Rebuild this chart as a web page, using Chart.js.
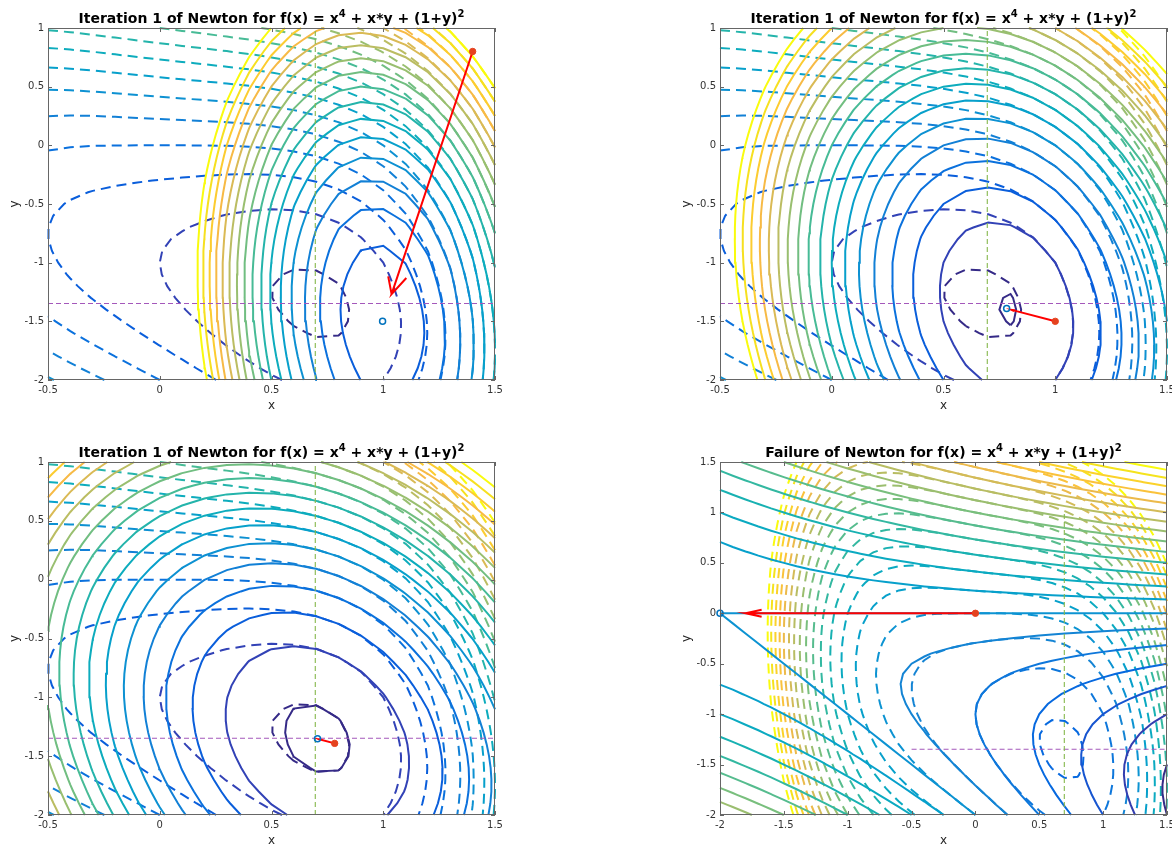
<!DOCTYPE html>
<html lang="en">
  <head>
    <meta charset="UTF-8" />
    <title>Newton iterations on a quartic</title>
    <script src="https://cdn.jsdelivr.net/npm/chart.js@4.4.1/dist/chart.umd.min.js"></script>
    <style>
      html, body {
        margin: 0;
        padding: 0;
        background: #fff;
        width: 1172px;
        height: 845px;
        overflow: hidden;
        position: relative;
      }
      canvas {
        position: absolute;
      }
    </style>
  </head>
  <body>
    <canvas id="p0"></canvas>
    <canvas id="p1"></canvas>
    <canvas id="p2"></canvas>
    <canvas id="p3"></canvas>

    <script>
      /******************************************************************
       * 1.  ----  Data  ----
       ******************************************************************/
      // contour levels used for both f (dashed) and the Newton model (solid)
      const LEVELS = [-2, -1.5, -1, -0.5, 0, 0.5, 1, 1.5, 2, 2.5, 3, 3.5, 4, 4.5, 5, 5.5, 6, 6.5, 7, 7.5, 8];

      // one entry per panel (top-left, top-right, bottom-left, bottom-right)
      const TITLE_LEAD = [
        "Iteration 1 of Newton for f(x) = x",
        "Iteration 1 of Newton for f(x) = x",
        "Iteration 1 of Newton for f(x) = x",
        "Failure of Newton for f(x) = x",
      ];
      const TITLE_TAIL = ["4", " + x*y + (1+y)", "2"]; // superscript, text, superscript

      const X_MIN = [-0.5, -0.5, -0.5, -2];
      const X_MAX = [1.5, 1.5, 1.5, 1.5];
      const Y_MIN = [-2, -2, -2, -2];
      const Y_MAX = [1, 1, 1, 1.5];

      const X_TICKS = [
        [-0.5, 0, 0.5, 1, 1.5],
        [-0.5, 0, 0.5, 1, 1.5],
        [-0.5, 0, 0.5, 1, 1.5],
        [-2, -1.5, -1, -0.5, 0, 0.5, 1, 1.5],
      ];
      const Y_TICKS = [
        [-2, -1.5, -1, -0.5, 0, 0.5, 1],
        [-2, -1.5, -1, -0.5, 0, 0.5, 1],
        [-2, -1.5, -1, -0.5, 0, 0.5, 1],
        [-2, -1.5, -1, -0.5, 0, 0.5, 1, 1.5],
      ];

      // current iterate (red dot) and Newton point (blue circle)
      const START_X = [1.4, 1.0, 0.7826, 0];
      const START_Y = [0.8, -1.5, -1.3913, 0];
      const NEXT_X = [0.997, 0.7826, 0.7058, -2];
      const NEXT_Y = [-1.4985, -1.3913, -1.3529, 0];

      // minimiser cross-hair
      const X_STAR = 0.6959;
      const Y_STAR = -1.3479;
      const STAR_X_SPAN = [-0.5, 1.5];
      const STAR_Y_SPAN = [-2, 1];

      // colour limits per panel
      const C_MIN = [-0.5, -0.5, -0.5, -2];
      const C_MAX = [8, 8, 8, 8];

      const GRID_STEP = 0.1;
      const ARROW_SCALE = 0.9; // quiver auto-scale
      const HEAD_ALPHA = 0.07;
      const HEAD_BETA = 0.28;

      /******************************************************************
       * 2.  ----  Function, Newton model, colours, contouring  ----
       ******************************************************************/
      const f = (x, y) => x ** 4 + x * y + (1 + y) ** 2;

      function newtonModel(x0, y0) {
        const f0 = f(x0, y0);
        const gx = 4 * x0 ** 3 + y0;
        const gy = x0 + 2 * (1 + y0);
        const hxx = 12 * x0 * x0;
        return (x, y) => {
          const dx = x - x0, dy = y - y0;
          return f0 + gx * dx + gy * dy + 0.5 * (hxx * dx * dx + 2 * dx * dy + 2 * dy * dy);
        };
      }

      // parula, every 4th entry of the 64 colour map
      const PARULA = [
        [0.2081, 0.1663, 0.5292], [0.1959, 0.2645, 0.7279], [0.0117, 0.3875, 0.882],
        [0.0498, 0.4586, 0.8641], [0.0793, 0.52, 0.8312], [0.0343, 0.5966, 0.8199],
        [0.0228, 0.6535, 0.7768], [0.0843, 0.6928, 0.7062], [0.2178, 0.725, 0.6193],
        [0.3953, 0.7459, 0.5244], [0.5709, 0.7485, 0.4494], [0.7184, 0.7411, 0.3905],
        [0.8507, 0.7299, 0.336], [0.9739, 0.7314, 0.2666], [0.988, 0.8066, 0.1794],
        [0.9589, 0.8949, 0.1132], [0.9763, 0.9831, 0.0538],
      ];
      const PARULA_IDX = [0, 4, 8, 12, 16, 20, 24, 28, 32, 36, 40, 44, 48, 52, 56, 60, 63];

      function levelColor(v, cmin, cmax) {
        const t = Math.min(1, Math.max(0, (v - cmin) / (cmax - cmin))) * 63;
        let k = 0;
        while (k < PARULA_IDX.length - 2 && t > PARULA_IDX[k + 1]) k++;
        const u = (t - PARULA_IDX[k]) / (PARULA_IDX[k + 1] - PARULA_IDX[k]);
        const c = PARULA[k].map((a, i) => Math.round(255 * (a + u * (PARULA[k + 1][i] - a))));
        return `rgb(${c[0]},${c[1]},${c[2]})`;
      }

      // marching squares on a regular grid, segments chained into polylines
      function contourLines(fn, xmin, xmax, ymin, ymax, level) {
        const nx = Math.round((xmax - xmin) / GRID_STEP) + 1;
        const ny = Math.round((ymax - ymin) / GRID_STEP) + 1;
        const xs = [], ys = [];
        for (let i = 0; i < nx; i++) xs.push(xmin + i * GRID_STEP);
        for (let j = 0; j < ny; j++) ys.push(ymin + j * GRID_STEP);
        const z = xs.map((x) => ys.map((y) => fn(x, y)));

        const pts = {}, segs = [], byKey = {};
        const edge = (key, i0, j0, i1, j1) => {
          if (!pts[key]) {
            const a = z[i0][j0], b = z[i1][j1];
            const t = (level - a) / (b - a);
            pts[key] = { x: xs[i0] + t * (xs[i1] - xs[i0]), y: ys[j0] + t * (ys[j1] - ys[j0]) };
          }
          return key;
        };

        for (let i = 0; i < nx - 1; i++) {
          for (let j = 0; j < ny - 1; j++) {
            const a = z[i][j], b = z[i + 1][j], c = z[i + 1][j + 1], d = z[i][j + 1];
            const k = (a > level ? 1 : 0) | (b > level ? 2 : 0) | (c > level ? 4 : 0) | (d > level ? 8 : 0);
            if (k === 0 || k === 15) continue;
            const B = () => edge("h" + i + "_" + j, i, j, i + 1, j);
            const R = () => edge("v" + (i + 1) + "_" + j, i + 1, j, i + 1, j + 1);
            const T = () => edge("h" + i + "_" + (j + 1), i, j + 1, i + 1, j + 1);
            const L = () => edge("v" + i + "_" + j, i, j, i, j + 1);
            const high = (a + b + c + d) / 4 > level;
            let pairs;
            switch (k) {
              case 1: case 14: pairs = [[L, B]]; break;
              case 2: case 13: pairs = [[B, R]]; break;
              case 3: case 12: pairs = [[L, R]]; break;
              case 4: case 11: pairs = [[R, T]]; break;
              case 6: case 9: pairs = [[B, T]]; break;
              case 7: case 8: pairs = [[L, T]]; break;
              case 5: pairs = high ? [[B, R], [T, L]] : [[L, B], [R, T]]; break;
              case 10: pairs = high ? [[L, B], [R, T]] : [[B, R], [T, L]]; break;
            }
            pairs.forEach(([p, q]) => {
              const ka = p(), kb = q(), s = segs.length;
              segs.push([ka, kb]);
              (byKey[ka] = byKey[ka] || []).push(s);
              (byKey[kb] = byKey[kb] || []).push(s);
            });
          }
        }

        const used = new Array(segs.length).fill(false);
        const walk = (key, out) => {
          for (;;) {
            const nxt = (byKey[key] || []).find((s) => !used[s]);
            if (nxt === undefined) return;
            used[nxt] = true;
            key = segs[nxt][0] === key ? segs[nxt][1] : segs[nxt][0];
            out.push(pts[key]);
          }
        };
        const lines = [];
        segs.forEach((sg, s) => {
          if (used[s]) return;
          used[s] = true;
          const fwd = [pts[sg[0]], pts[sg[1]]];
          walk(sg[1], fwd);
          const back = [];
          walk(sg[0], back);
          lines.push(back.reverse().concat(fwd));
        });
        return lines;
      }

      /******************************************************************
       * 3.  ----  Plugins: MATLAB-like box/ticks and title  ----
       ******************************************************************/
      const FONT = "'DejaVu Sans', sans-serif";

      function boxPlugin(p) {
        return {
          id: "matlabBox",
          afterDatasetsDraw(chart) {
            const { ctx, chartArea: a, scales } = chart;
            ctx.save();
            ctx.strokeStyle = "#666666";
            ctx.lineWidth = 1;
            ctx.strokeRect(a.left + 0.5, a.top + 0.5, a.right - a.left - 1, a.bottom - a.top - 1);
            ctx.beginPath();
            X_TICKS[p].forEach((v) => {
              const px = Math.round(scales.x.getPixelForValue(v)) + 0.5;
              ctx.moveTo(px, a.bottom); ctx.lineTo(px, a.bottom - 4);
              ctx.moveTo(px, a.top); ctx.lineTo(px, a.top + 4);
            });
            Y_TICKS[p].forEach((v) => {
              const py = Math.round(scales.y.getPixelForValue(v)) + 0.5;
              ctx.moveTo(a.left, py); ctx.lineTo(a.left + 4, py);
              ctx.moveTo(a.right, py); ctx.lineTo(a.right - 4, py);
            });
            ctx.stroke();
            ctx.restore();
          },
        };
      }

      function titlePlugin(p) {
        const parts = [[TITLE_LEAD[p], false], [TITLE_TAIL[0], true], [TITLE_TAIL[1], false], [TITLE_TAIL[2], true]];
        const big = "bold 14px " + FONT, small = "bold 10px " + FONT;
        return {
          id: "supTitle",
          afterDraw(chart) {
            const { ctx, chartArea: a } = chart;
            ctx.save();
            let w = 0;
            parts.forEach(([t, sup]) => { ctx.font = sup ? small : big; w += ctx.measureText(t).width; });
            let x = (a.left + a.right) / 2 - w / 2;
            const y = a.top - 5;
            ctx.fillStyle = "#000";
            ctx.textBaseline = "alphabetic";
            ctx.textAlign = "left";
            parts.forEach(([t, sup]) => {
              ctx.font = sup ? small : big;
              ctx.fillText(t, x, sup ? y - 6 : y);
              x += ctx.measureText(t).width;
            });
            ctx.restore();
          },
        };
      }

      /******************************************************************
       * 4.  ----  Build the four charts  ----
       ******************************************************************/
      const CANVAS_LEFT = [0, 672, 0, 672];
      const CANVAS_TOP = [0, 0, 434, 434];
      const PLOT_H = [352, 352, 353, 353];
      const PLOT_W = 447;

      for (let p = 0; p < 4; p++) {
        const canvas = document.getElementById("p" + p);
        canvas.width = 48 + PLOT_W + 65;
        canvas.height = 28 + PLOT_H[p] + 45;
        canvas.style.left = CANVAS_LEFT[p] + "px";
        canvas.style.top = CANVAS_TOP[p] + "px";

        const model = newtonModel(START_X[p], START_Y[p]);
        const datasets = [];
        const line = (data, color, width, dash, order) => ({
          data, borderColor: color, backgroundColor: color, borderWidth: width,
          borderDash: dash, showLine: true, pointRadius: 0, tension: 0, fill: false,
          order, clip: 1,
        });

        LEVELS.forEach((lv) => {
          const col = levelColor(lv, C_MIN[p], C_MAX[p]);
          contourLines(f, X_MIN[p], X_MAX[p], Y_MIN[p], Y_MAX[p], lv)
            .forEach((pl) => datasets.push(line(pl, col, 2, [10, 6], 5)));
          contourLines(model, X_MIN[p], X_MAX[p], Y_MIN[p], Y_MAX[p], lv)
            .forEach((pl) => datasets.push(line(pl, col, 2, [], 4)));
        });

        // minimiser cross-hair
        datasets.push(line([{ x: X_STAR, y: STAR_Y_SPAN[0] }, { x: X_STAR, y: STAR_Y_SPAN[1] }], "#86b84c", 1.1, [5, 3], 3));
        datasets.push(line([{ x: STAR_X_SPAN[0], y: Y_STAR }, { x: STAR_X_SPAN[1], y: Y_STAR }], "#a458bb", 1.1, [5, 3], 3));

        // Newton step drawn as a quiver arrow
        const u = ARROW_SCALE * (NEXT_X[p] - START_X[p]);
        const v = ARROW_SCALE * (NEXT_Y[p] - START_Y[p]);
        const tip = { x: START_X[p] + u, y: START_Y[p] + v };
        const barb1 = { x: tip.x - HEAD_ALPHA * (u + HEAD_BETA * v), y: tip.y - HEAD_ALPHA * (v - HEAD_BETA * u) };
        const barb2 = { x: tip.x - HEAD_ALPHA * (u - HEAD_BETA * v), y: tip.y - HEAD_ALPHA * (v + HEAD_BETA * u) };
        datasets.push(line([{ x: START_X[p], y: START_Y[p] }, tip, barb1, tip, barb2], "#ff0000", 2, [], 2));

        datasets.push({
          data: [{ x: NEXT_X[p], y: NEXT_Y[p] }], pointRadius: 3, pointBorderWidth: 1.5,
          pointBorderColor: "#0072bd", pointBackgroundColor: "rgba(0,0,0,0)", order: 1, clip: false,
        });
        datasets.push({
          data: [{ x: START_X[p], y: START_Y[p] }], pointRadius: 3.2, pointBorderWidth: 1,
          pointBorderColor: "#e5421f", pointBackgroundColor: "#e5421f", order: 0, clip: false,
        });

        new Chart(canvas, {
          type: "scatter",
          data: { datasets },
          plugins: [boxPlugin(p), titlePlugin(p)],
          options: {
            responsive: false,
            animation: false,
            devicePixelRatio: 1,
            events: [],
            layout: { padding: { left: 0, top: 28, right: 65, bottom: 0 } },
            plugins: { legend: { display: false }, tooltip: { enabled: false }, title: { display: false } },
            scales: {
              x: {
                type: "linear",
                position: "bottom",
                min: X_MIN[p],
                max: X_MAX[p],
                grid: { display: false, drawTicks: false },
                border: { display: false },
                afterBuildTicks: (s) => { s.ticks = X_TICKS[p].map((value) => ({ value })); },
                afterFit: (s) => { s.height = 45; },
                ticks: {
                  autoSkip: false, maxRotation: 0, padding: 4, color: "#333333",
                  font: { family: FONT, size: 10 },
                  callback: (val) => String(val),
                },
                title: {
                  display: true, text: "x", color: "#262626",
                  font: { family: FONT, size: 12 }, padding: { top: 12, bottom: 12 },
                },
              },
              y: {
                type: "linear",
                position: "left",
                min: Y_MIN[p],
                max: Y_MAX[p],
                grid: { display: false, drawTicks: false },
                border: { display: false },
                afterBuildTicks: (s) => { s.ticks = Y_TICKS[p].map((value) => ({ value })); },
                afterFit: (s) => { s.width = 48; },
                ticks: {
                  autoSkip: false, padding: 4, color: "#333333",
                  font: { family: FONT, size: 10 },
                  callback: (val) => String(val),
                },
                title: {
                  display: true, text: "y", color: "#262626",
                  font: { family: FONT, size: 12 }, padding: { top: 8, bottom: 8 },
                },
              },
            },
          },
        });
      }
    </script>
  </body>
</html>
